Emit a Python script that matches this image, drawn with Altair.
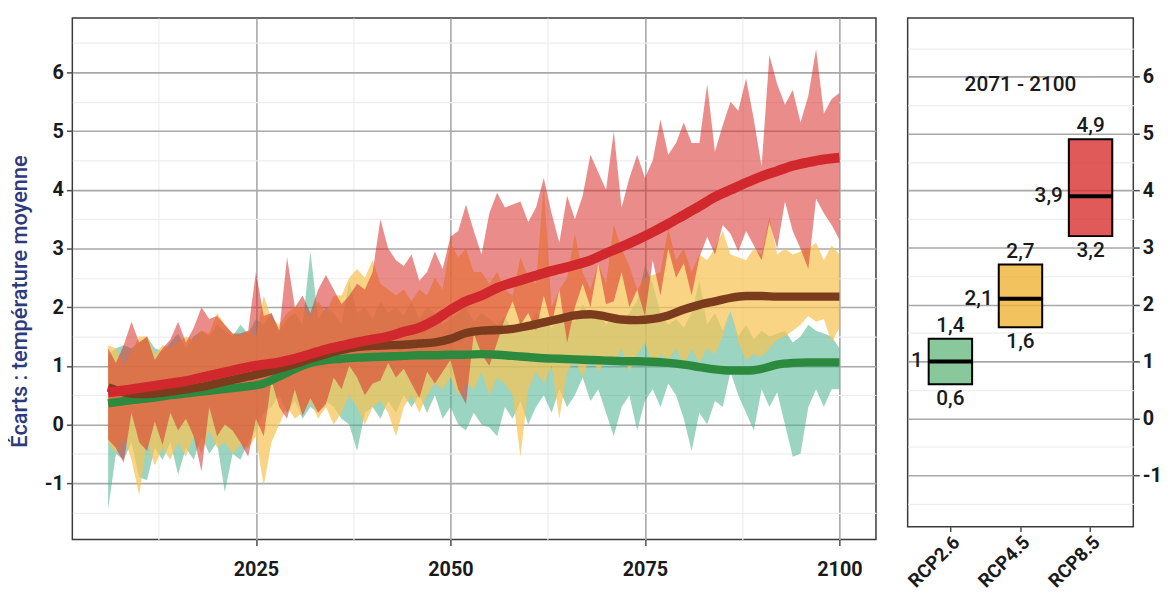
import altair as alt
import pandas as pd

# ---------------- data ----------------
YEARS = list(range(2006, 2101))
MEAN_YEARS = list(range(2006, 2101, 2))

RCP26_LO = [-1.45, -0.50, -0.60, -0.30, -0.90, -0.95, -0.40, -0.60, -0.30, -0.85,
            -0.40, -0.60, -0.20, -0.50, -0.30, -1.15, -0.50, -0.60, -0.30, -0.10,
            0.20, 0.30, 0.50, 0.20, 0.40, 0.10, 0.30, 0.20, 0.40, 0.30,
            0.10, 0.00, -0.45, 0.20, 0.30, 0.10, 0.40, 0.20, 0.50, 0.30,
            0.50, 0.20, 0.50, 0.10, 0.30, 0.00, -0.10, 0.20, 0.00, -0.05,
            -0.20, 0.30, 0.10, 0.40, 0.00, 0.30, 0.50, 0.20, 0.60, 0.30,
            0.50, 0.80, 0.40, 0.60, 0.20, -0.20, 0.30, 0.50, -0.10, 0.40,
            0.60, 0.30, 0.70, 0.50, 0.10, -0.45, 0.20, 0.00, 0.40, 0.30,
            0.90, 0.50, 0.20, -0.10, 0.60, 0.30, 0.55, 0.00, -0.55, -0.50,
            0.30, 0.60, 0.30, 0.60, 0.60]
RCP26_HI = [1.20, 1.30, 1.35, 1.30, 1.40, 1.50, 1.30, 1.25, 1.40, 1.55,
            1.30, 1.50, 1.60, 1.50, 1.70, 1.60, 1.50, 1.70, 1.55, 1.80,
            1.70, 1.90, 1.60, 1.80, 1.90, 1.70, 2.95, 1.80, 2.00, 1.90,
            1.70, 2.45, 1.90, 2.00, 1.80, 2.10, 1.90, 2.00, 1.85, 2.10,
            1.80, 2.00, 1.90, 1.70, 1.80, 1.90, 2.00, 1.75, 1.90, 1.80,
            1.70, 1.85, 1.60, 1.80, 1.70, 1.90, 1.80, 1.65, 1.80, 1.90,
            1.75, 2.05, 1.80, 1.90, 1.70, 1.85, 1.75, 1.90, 2.10, 2.70,
            2.40, 1.90, 1.70, 1.80, 1.65, 1.90, 2.45, 1.70, 1.90, 1.60,
            1.95, 1.50, 1.70, 1.45, 1.60, 1.50, 1.55, 1.60, 1.40, 1.50,
            1.70, 1.60, 1.55, 1.50, 1.30]
RCP45_LO = [-0.30, -0.50, -0.20, -0.60, -1.20, -0.30, -0.70, -0.40, -0.60, -0.30,
            -0.55, -0.20, -0.50, -0.10, -0.40, -0.30, -0.50, -0.35, -0.40, -0.20,
            -1.05, -0.30, 0.00, 0.30, 0.10, 0.20, 0.40, 0.10, 0.30, 0.00,
            0.20, 0.50, 0.30, 0.00, 0.30, 0.40, 0.20, -0.20, 0.30, 0.50,
            0.20, 0.50, 0.70, 0.60, 0.80, 0.50, 0.70, 0.60, 0.90, 0.50,
            0.80, 0.70, 0.50, -0.55, 0.60, 0.90, 0.70, 1.00, 0.10, 0.90,
            1.10, 0.80, 1.20, 0.90, 1.10, 1.00, 1.30, 0.90, 1.20, 1.40,
            1.00, 1.20, 1.10, 1.30, 1.00, 1.30, 1.05, 1.30, 1.20, 1.50,
            1.95, 1.40, 1.10, 1.20, 1.15, 1.30, 1.45, 1.50, 1.60, 1.70,
            1.85, 1.75, 1.80, 1.40, 1.65]
RCP45_HI = [1.35, 1.30, 1.00, 1.25, 1.50, 1.50, 1.20, 1.35, 1.30, 1.40,
            1.50, 1.45, 1.60, 1.55, 1.90, 1.70, 1.55, 1.50, 1.60, 1.50,
            2.20, 1.80, 1.70, 1.90, 2.00, 2.00, 1.80, 2.10, 1.90, 2.20,
            2.20, 2.50, 2.65, 2.50, 2.80, 2.40, 2.30, 2.20, 2.30, 2.10,
            2.30, 2.20, 2.50, 2.30, 3.10, 2.85, 3.00, 2.60, 2.60, 2.40,
            2.60, 2.30, 2.20, 2.85, 2.50, 2.40, 4.10, 2.00, 2.30, 2.50,
            3.25, 2.60, 2.30, 2.75, 2.40, 3.40, 3.00, 2.70, 2.30, 2.50,
            2.55, 2.60, 3.35, 2.80, 3.00, 2.60, 2.90, 2.80, 3.00, 3.30,
            2.90, 2.85, 2.80, 3.00, 2.90, 3.55, 2.90, 3.00, 2.90, 2.95,
            3.00, 3.10, 2.80, 3.05, 2.90]
RCP85_LO = [-0.25, -0.40, -0.65, 0.20, -0.30, -0.45, 0.05, -0.35, 0.20, -0.10,
            0.10, -0.20, -0.80, 0.30, -0.20, 0.00, -0.10, -0.30, -0.55, 0.10,
            -0.20, 0.75, 0.30, 0.10, 0.60, 0.15, 0.45, 0.20, 0.35, 0.80,
            0.60, 1.00, 0.80, 0.50, 0.70, 0.75, 1.05, 0.80, 0.95, 0.70,
            0.45, 0.90, 0.70, 0.90, 1.10, 0.60, 0.35, 1.55, 1.20, 1.00,
            1.40, 1.80, 2.10, 1.70, 1.90, 1.60, 2.20, 1.70, 2.30, 1.40,
            2.00, 2.40, 2.00, 2.75, 2.05, 2.10, 2.60, 2.00, 2.30, 1.85,
            2.80, 2.20, 3.00, 2.50, 2.75, 2.20, 2.85, 3.20, 2.90, 3.40,
            3.25, 2.95, 3.30, 3.05, 2.80, 3.45, 3.00, 3.80, 3.30, 3.00,
            2.65, 3.85, 3.60, 3.40, 3.15]
RCP85_HI = [1.30, 1.05, 1.35, 1.75, 1.40, 1.50, 1.10, 1.30, 1.45, 1.75,
            1.40, 1.65, 2.00, 1.80, 1.85, 1.70, 1.55, 1.55, 1.60, 2.60,
            1.85, 1.90, 1.60, 2.85, 2.00, 2.20, 1.90, 2.30, 2.55, 2.30,
            2.05, 2.20, 2.40, 2.30, 2.60, 3.50, 3.00, 2.80, 2.70, 2.90,
            2.45, 2.60, 2.95, 2.65, 3.20, 3.30, 3.75, 3.30, 2.90, 3.60,
            3.95, 3.70, 3.75, 3.80, 3.45, 3.70, 4.20, 3.60, 3.10, 3.90,
            3.50, 3.90, 4.60, 4.30, 4.00, 5.00, 3.70, 4.20, 4.60, 4.20,
            4.50, 5.20, 4.60, 4.80, 5.15, 4.80, 4.80, 5.80, 4.65, 5.10,
            5.50, 5.35, 5.90, 5.20, 4.40, 6.30, 5.80, 5.45, 5.70, 5.15,
            5.60, 6.40, 5.30, 5.55, 5.65]

RCP26_MEAN = [0.36, 0.40, 0.43, 0.46, 0.50, 0.53, 0.56, 0.59, 0.62, 0.65,
              0.70, 0.82, 0.95, 1.05, 1.10, 1.12, 1.14, 1.15, 1.16, 1.17,
              1.18, 1.18, 1.19, 1.19, 1.20, 1.19, 1.17, 1.15, 1.13, 1.12,
              1.11, 1.10, 1.09, 1.08, 1.08, 1.07, 1.05, 1.02, 0.98, 0.94,
              0.92, 0.92, 0.95, 1.02, 1.05, 1.06, 1.06, 1.06]
RCP45_MEAN = [0.63, 0.55, 0.52, 0.53, 0.56, 0.60, 0.64, 0.70, 0.76, 0.82,
              0.88, 0.95, 1.03, 1.12, 1.20, 1.27, 1.32, 1.34, 1.35, 1.36,
              1.38, 1.40, 1.46, 1.56, 1.60, 1.61, 1.63, 1.68, 1.74, 1.80,
              1.86, 1.88, 1.84, 1.79, 1.78, 1.80, 1.86, 1.96, 2.04, 2.10,
              2.16, 2.19, 2.19, 2.18, 2.18, 2.18, 2.18, 2.18]
RCP85_MEAN = [0.55, 0.58, 0.62, 0.66, 0.70, 0.74, 0.80, 0.86, 0.92, 0.98,
              1.02, 1.06, 1.12, 1.20, 1.28, 1.34, 1.40, 1.45, 1.50, 1.58,
              1.65, 1.78, 1.95, 2.10, 2.20, 2.33, 2.42, 2.50, 2.58, 2.65,
              2.72, 2.80, 2.92, 3.03, 3.15, 3.28, 3.42, 3.57, 3.72, 3.88,
              4.00, 4.12, 4.23, 4.32, 4.41, 4.47, 4.52, 4.55]

SCENARIOS = ["RCP2.6", "RCP4.5", "RCP8.5"]
BOX_LO = [0.6, 1.6, 3.2]
BOX_MED = [1.0, 2.1, 3.9]
BOX_HI = [1.4, 2.7, 4.9]
LBL_LO = ["0,6", "1,6", "3,2"]
LBL_MED = ["1", "2,1", "3,9"]
LBL_HI = ["1,4", "2,7", "4,9"]
PERIOD = "2071 - 2100"
PERIOD_Y = 5.85

Y_TICKS = [-1, 0, 1, 2, 3, 4, 5, 6]
X_TICKS = [2025, 2050, 2075, 2100]
Y_TITLE = "Écarts : température moyenne"

# ---------------- styling ----------------
BAND_STYLES = [
    dict(color="#49b18c", opacity=0.55),
    dict(color="#f6c455", opacity=0.72),
    dict(color="#d8302a", opacity=0.55),
]
LINE_COLORS = ["#2b8a3e", "#7b3b1d", "#d0282c"]
LINE_WIDTHS = [8.5, 8.5, 10]
BOX_COLORS = ["#6aba81", "#efb336", "#da3131"]
FONT = "Roboto"

y_grid_vals = sorted(Y_TICKS + [v + 0.5 for v in Y_TICKS] + [Y_TICKS[0] - 0.5])
x_step = X_TICKS[1] - X_TICKS[0]
x_grid_vals = sorted(X_TICKS + [v - x_step / 2 for v in X_TICKS])


def cond(test, a, b):
    return {"condition": {"test": test, "value": a}, "value": b}


Y_MAJ = "abs(datum.value - round(datum.value)) < 0.001"
X_MAJ = "datum.value % 25 === 0"
MAJOR_GRID = "#a8a8a8"
MINOR_GRID = "#ededed"

y_axis_left = alt.Axis(
    values=y_grid_vals,
    labelExpr=f"{Y_MAJ} ? '' + datum.value : ''",
    gridColor=cond(Y_MAJ, MAJOR_GRID, MINOR_GRID),
    gridWidth=cond(Y_MAJ, 1.6, 1.2),
    tickColor=cond(Y_MAJ, "#4d4d4d", "transparent"),
    tickSize=6, tickWidth=1.5, labelPadding=3,
    domain=False, labelFontSize=20, labelFontWeight="bold",
    title=Y_TITLE, titleColor="#2d3b7c", titleFontSize=22,
    titleFontWeight=500, titleFont=FONT, titleAngle=-90,
    titleAlign="center", titleBaseline="middle", titleX=-53, titleY=286,
)
x_axis_left = alt.Axis(
    values=x_grid_vals,
    labelExpr=f"{X_MAJ} ? '' + datum.value : ''",
    gridColor=cond(X_MAJ, MAJOR_GRID, MINOR_GRID),
    gridWidth=cond(X_MAJ, 1.6, 1.2),
    tickColor=cond(X_MAJ, "#4d4d4d", "transparent"),
    tickSize=6, tickWidth=1.5, labelPadding=14,
    domain=False, labelFontSize=20, labelFontWeight="bold", title=None,
)
xs = alt.Scale(domain=[2001.4, 2104.7], nice=False, zero=False)
ys = alt.Scale(domain=[-1.96, 6.93], nice=False, zero=False)

band_df = pd.DataFrame({
    "year": YEARS * 3,
    "lo": RCP26_LO + RCP45_LO + RCP85_LO,
    "hi": RCP26_HI + RCP45_HI + RCP85_HI,
    "scen": [s for s in SCENARIOS for _ in YEARS],
})
mean_df = pd.DataFrame({
    "year": MEAN_YEARS * 3,
    "value": RCP26_MEAN + RCP45_MEAN + RCP85_MEAN,
    "scen": [s for s in SCENARIOS for _ in MEAN_YEARS],
})

layers = []
for s, st in zip(SCENARIOS, BAND_STYLES):
    layers.append(
        alt.Chart(band_df).transform_filter(alt.datum.scen == s)
        .mark_area(interpolate="linear", **st)
        .encode(x=alt.X("year:Q", scale=xs, axis=x_axis_left),
                y=alt.Y("lo:Q", scale=ys, axis=y_axis_left),
                y2="hi:Q")
    )
for s, c, w in zip(SCENARIOS, LINE_COLORS, LINE_WIDTHS):
    layers.append(
        alt.Chart(mean_df).transform_filter(alt.datum.scen == s)
        .mark_line(color=c, strokeWidth=w, interpolate="monotone")
        .encode(x=alt.X("year:Q", scale=xs, axis=x_axis_left),
                y=alt.Y("value:Q", scale=ys, axis=y_axis_left))
    )
left = alt.layer(*layers).properties(width=812, height=527)

# ---------------- right panel ----------------
box_df = pd.DataFrame({
    "scen": SCENARIOS, "lo": BOX_LO, "med": BOX_MED, "hi": BOX_HI,
    "llo": LBL_LO, "lmed": LBL_MED, "lhi": LBL_HI,
})
y_axis_right = alt.Axis(
    orient="right",
    values=y_grid_vals,
    labelExpr=f"{Y_MAJ} ? '' + datum.value : ''",
    gridColor=cond(Y_MAJ, MAJOR_GRID, MINOR_GRID),
    gridWidth=cond(Y_MAJ, 1.6, 1.2),
    tickColor=cond(Y_MAJ, "#4d4d4d", "transparent"),
    tickSize=6, tickWidth=1.5, labelPadding=3,
    domain=False, labelFontSize=20, labelFontWeight="bold", title=None,
)
x_axis_right = alt.Axis(
    labelAngle=-45, labelFontSize=19, labelFontWeight="bold", labelPadding=1,
    gridColor=MAJOR_GRID, gridWidth=1.6, bandPosition=0.5,
    tickColor="#4d4d4d", tickSize=5, tickWidth=1.5,
    domain=False, title=None,
)
xr_scale = alt.Scale(type="band", domain=SCENARIOS, paddingInner=0.38, paddingOuter=0.3)
yr_scale = alt.Scale(domain=[-1.9, 7.03], nice=False, zero=False)
XR = alt.X("scen:N", scale=xr_scale, axis=x_axis_right, sort=SCENARIOS)

rbase = alt.Chart(box_df)
boxes = rbase.mark_bar(stroke="black", strokeWidth=2, fillOpacity=0.8).encode(
    x=XR,
    y=alt.Y("lo:Q", scale=yr_scale, axis=y_axis_right),
    y2="hi:Q",
    color=alt.Color("scen:N", scale=alt.Scale(domain=SCENARIOS, range=BOX_COLORS), legend=None),
)
medians = rbase.mark_tick(color="black", thickness=4, size=45, opacity=1).encode(
    x=XR, y=alt.Y("med:Q", scale=yr_scale, axis=y_axis_right))
txt_style = dict(font=FONT, fontSize=21, fontWeight=500, color="#1a1a1a")
t_hi = rbase.mark_text(baseline="bottom", dy=-3, **txt_style).encode(
    x=XR, y=alt.Y("hi:Q", scale=yr_scale, axis=y_axis_right), text="lhi:N")
t_lo = rbase.mark_text(baseline="top", dy=4, **txt_style).encode(
    x=XR, y=alt.Y("lo:Q", scale=yr_scale, axis=y_axis_right), text="llo:N")
t_med = rbase.mark_text(baseline="middle", align="right", dx=-28, **txt_style).encode(
    x=XR, y=alt.Y("med:Q", scale=yr_scale, axis=y_axis_right), text="lmed:N")
period = alt.Chart(pd.DataFrame({"t": [PERIOD]})).mark_text(
    baseline="middle", **txt_style).encode(
    x=alt.X(datum=SCENARIOS[1], scale=xr_scale, axis=x_axis_right, type="nominal"),
    y=alt.Y(datum=PERIOD_Y, scale=yr_scale, axis=y_axis_right, type="quantitative"),
    text="t:N")
right = alt.layer(boxes, medians, t_hi, t_lo, t_med, period).properties(width=228, height=514)

chart = (
    alt.hconcat(left, right, spacing=27)
    .resolve_scale(x="independent", y="independent")
    .properties(padding={"left": 0, "top": 6, "right": 0, "bottom": 0}, background="white")
    .configure_view(stroke="#3a3a3a", strokeWidth=1.5)
    .configure_axis(labelFont=FONT, labelColor="#1a1a1a", titleFont=FONT)
)

chart.save("out.html", embed_options={"renderer": "svg", "actions": False})
